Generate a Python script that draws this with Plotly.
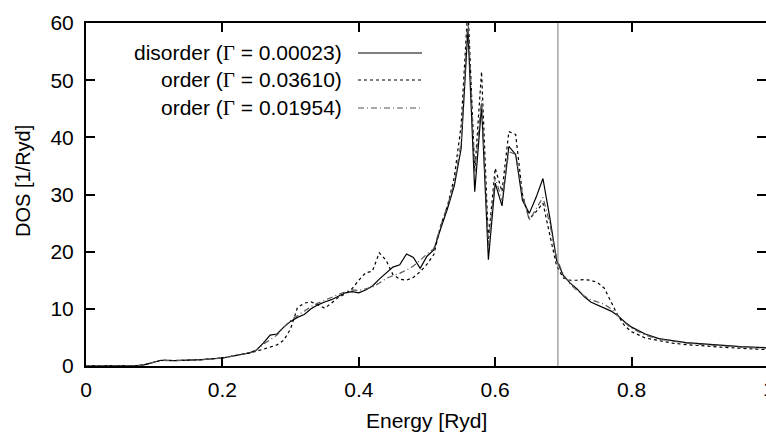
import plotly.graph_objects as go

# ---------------- data ----------------
energy_common = [0, 0.05, 0.075, 0.085, 0.1, 0.11, 0.13, 0.15, 0.17, 0.2, 0.22, 0.24, 0.25,
                 0.26, 0.27, 0.28, 0.29, 0.30, 0.31, 0.32, 0.33, 0.34, 0.35, 0.36, 0.37, 0.38,
                 0.39, 0.40, 0.41, 0.42, 0.43, 0.44, 0.45, 0.46, 0.47, 0.48, 0.49, 0.50, 0.51,
                 0.52, 0.53, 0.54, 0.55, 0.56, 0.57, 0.58, 0.59, 0.60, 0.61, 0.62, 0.63, 0.64,
                 0.65, 0.66, 0.67, 0.68, 0.69, 0.70, 0.71, 0.72, 0.73, 0.74, 0.75, 0.76, 0.77,
                 0.78, 0.79, 0.80, 0.82, 0.84, 0.86, 0.88, 0.90, 0.93, 0.96, 1.0]

dos_disorder = [0, 0, 0.05, 0.2, 0.7, 1.0, 0.95, 1.0, 1.1, 1.4, 1.8, 2.3, 2.8,
                4.0, 5.4, 5.6, 6.8, 7.8, 8.5, 9.0, 10.0, 10.7, 11.2, 11.6, 12.2, 12.8,
                13.0, 12.8, 13.3, 14.0, 15.2, 16.3, 17.3, 17.7, 19.6, 19.0, 17.1, 19.2, 20.3,
                24.0, 27.5, 31.5, 38.0, 59.0, 30.5, 45.5, 18.6, 32.0, 28.0, 38.4, 37.0, 29.0,
                26.7, 29.5, 32.8, 26.0, 18.5, 15.8, 14.5, 13.5, 12.2, 11.2, 10.7, 10.2, 9.6,
                8.8, 7.7, 6.8, 5.6, 4.8, 4.4, 4.1, 3.9, 3.6, 3.4, 3.2]

dos_order_a = [0, 0, 0.05, 0.2, 0.7, 1.0, 0.95, 1.0, 1.1, 1.4, 1.8, 2.3, 2.6,
               2.9, 3.3, 3.7, 4.5, 6.5, 10.2, 11.0, 11.2, 10.7, 10.1, 11.0, 12.0, 12.6,
               13.5, 15.0, 16.3, 16.6, 19.8, 18.5, 16.0, 15.2, 15.0, 15.5, 16.5, 17.8, 19.5,
               24.5, 28.0, 33.0, 42.0, 63.0, 34.0, 51.5, 22.0, 34.6, 30.5, 41.0, 40.5, 30.0,
               25.7, 27.0, 28.5, 23.0, 17.5, 15.4, 15.0, 15.0, 15.1, 15.0, 14.6, 13.6, 11.3,
               8.8, 7.0, 6.0, 4.9, 4.4, 4.0, 3.75, 3.55, 3.3, 3.1, 2.85]

dos_order_b = [0, 0, 0.05, 0.2, 0.7, 1.0, 0.95, 1.0, 1.1, 1.4, 1.8, 2.3, 2.8,
               3.8, 4.6, 5.4, 6.8, 8.0, 8.8, 9.6, 10.4, 11.0, 11.5, 12.0, 12.5, 13.0,
               13.3, 13.2, 13.5, 13.8, 14.5, 15.3, 15.8, 16.2, 16.8, 17.5, 18.5, 19.6, 20.5,
               24.5, 28.0, 32.0, 39.0, 61.0, 34.0, 46.5, 21.0, 33.0, 29.0, 37.5, 37.0, 30.0,
               25.5, 27.5, 29.5, 25.0, 18.8, 16.0, 14.3, 13.2, 12.3, 11.6, 11.2, 10.8, 10.0,
               8.8, 7.6, 6.6, 5.4, 4.7, 4.3, 4.0, 3.8, 3.5, 3.3, 3.1]

fermi_energy = 0.692
series_names = ["disorder (<span style=\"font-family:'Liberation Serif'\">Γ</span> = 0.00023)",
                "order (<span style=\"font-family:'Liberation Serif'\">Γ</span> = 0.03610)",
                "order (<span style=\"font-family:'Liberation Serif'\">Γ</span> = 0.01954)"]

x_tickvals = [0, 0.2, 0.4, 0.6, 0.8]
x_ticktext = ["0", "0.2", "0.4", "0.6", "0.8"]
last_x_label = "1"
y_tickvals = [0, 10, 20, 30, 40, 50, 60]
y_ticktext = ["0", "10", "20", "30", "40", "50", "60"]

# ---------------- layout geometry (pixels) ----------------
W, H = 766, 437
L, R, T, B = 86, 0, 23, 71
FONT = "Liberation Sans, Arial, Helvetica, sans-serif"
pw, ph = W - L - R, H - T - B


def px(x):
    return (x - L) / pw


def py(y):
    return (H - B - y) / ph


styles = [dict(color="black", width=1.2, dash="solid"),
          dict(color="black", width=1.2, dash="3px,3px"),
          dict(color="#555555", width=1.2, dash="6px,3px,1px,3px")]
dos_series = [dos_disorder, dos_order_a, dos_order_b]

fig = go.Figure()
for vals, st, name in zip(dos_series, styles, series_names):
    fig.add_trace(go.Scatter(x=energy_common, y=vals, mode="lines", line=st,
                             name=name, showlegend=False, hoverinfo="skip"))

fig.add_trace(go.Scatter(x=[fermi_energy, fermi_energy], y=[0, 60], mode="lines",
                         line=dict(color="#777777", width=1), showlegend=False,
                         hoverinfo="skip", yaxis="y2"))

# legend (gnuplot style: text then sample)
row_y = [53, 80, 108]
annotations = []
shapes = []
for name, st, ry in zip(series_names, styles, row_y):
    annotations.append(dict(xref="paper", yref="paper", x=px(344), y=py(ry), text=name,
                            showarrow=False, xanchor="right", yanchor="middle",
                            font=dict(family=FONT, size=21, color="black")))
    shapes.append(dict(type="line", xref="paper", yref="paper", x0=px(358), x1=px(422),
                       y0=py(ry), y1=py(ry), line=st))

annotations.append(dict(xref="paper", yref="paper", x=px(769), y=py(388.5), text=last_x_label,
                        showarrow=False, xanchor="center", yanchor="middle",
                        font=dict(family=FONT, size=21, color="black")))
annotations.append(dict(xref="paper", yref="paper", x=px(426), y=py(420), text="Energy [Ryd]",
                        showarrow=False, xanchor="center", yanchor="middle",
                        font=dict(family=FONT, size=21, color="black")))
annotations.append(dict(xref="paper", yref="paper", x=px(23), y=py(181), text="DOS [1/Ryd]",
                        showarrow=False, xanchor="center", yanchor="middle", textangle=-90,
                        font=dict(family=FONT, size=20, color="black")))

fig.update_layout(
    width=W, height=H,
    margin=dict(l=L, r=R, t=T, b=B),
    paper_bgcolor="white", plot_bgcolor="white",
    font=dict(family=FONT, size=21, color="black"),
    xaxis=dict(range=[0, pw / 682.0], tickvals=x_tickvals, ticktext=x_ticktext,
               ticks="inside", ticklen=9, tickwidth=2, tickcolor="black",
               showline=True, linewidth=2, linecolor="black", mirror="ticks",
               showgrid=False, zeroline=False, tickfont=dict(size=21),
               ticklabelstandoff=4),
    yaxis=dict(range=[0, 60], tickvals=y_tickvals, ticktext=y_ticktext,
               ticks="inside", ticklen=9, tickwidth=2, tickcolor="black",
               showline=True, linewidth=2, linecolor="black", mirror=False,
               showgrid=False, zeroline=False, tickfont=dict(size=21),
               ticklabelstandoff=6),
    yaxis2=dict(range=[0, 60], overlaying="y", side="right", tickvals=y_tickvals,
                ticks="inside", ticklen=9, tickwidth=2, tickcolor="black",
                showticklabels=False, showline=False, showgrid=False, zeroline=False),
    annotations=annotations,
    shapes=shapes,
)

fig.write_html("out.html")
